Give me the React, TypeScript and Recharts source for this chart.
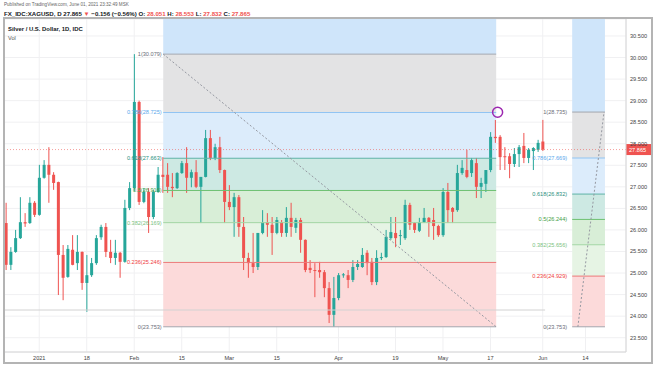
import React from 'react'
import {
  ComposedChart,
  Bar,
  XAxis,
  YAxis,
  CartesianGrid,
  ReferenceArea,
  ReferenceLine,
  ReferenceDot,
} from 'recharts'

// Daily XAGUSD candles (bar 0 = late Dec 2020, bar 113 = Jun 1)
const opens = [
  26.16, 25.19, 25.49, 25.81, 26.18, 26.16, 26.63, 26.35, 27.21, 27.51,
  27.28, 27.11, 25.42, 24.91, 25.54, 25.23, 25.49, 24.77, 24.95, 25.23,
  25.83, 26.07, 25.49, 25.35, 25.47, 25.26, 26.51, 26.97, 28.97, 26.65,
  26.88, 26.30, 26.88, 27.28, 27.28, 27.00, 26.97, 27.32, 27.55, 27.21,
  27.34, 27.00, 27.23, 28.13, 27.67, 27.92, 27.39, 26.65, 26.53, 26.76,
  26.07, 25.35, 25.23, 25.14, 25.93, 26.18, 26.12, 25.93, 26.18, 25.93,
  26.28, 26.05, 26.23, 25.77, 25.12, 25.07, 25.07, 25.02, 24.65, 24.03,
  24.42, 24.95, 24.95, 24.84, 25.14, 25.14, 25.47, 25.26, 24.79, 25.35,
  25.37, 25.81, 25.93, 25.86, 25.81, 26.58, 26.16, 25.98, 26.18, 26.28,
  26.23, 26.09, 25.88, 26.88, 26.51, 26.46, 27.32, 27.39, 27.32, 27.55,
  27.00, 27.07, 27.39, 28.16, 28.16, 27.71, 27.71, 27.53, 27.76, 27.95,
  27.67, 27.83, 27.86, 28.051,
]
const highs = [
  26.63, 25.60, 26.00, 26.76, 26.39, 26.76, 26.67, 27.51, 27.62, 27.92,
  27.34, 27.12, 25.65, 25.65, 25.88, 25.88, 25.50, 25.42, 25.35, 25.88,
  26.12, 26.16, 25.77, 25.77, 25.49, 26.70, 27.11, 30.079, 29.00, 26.97,
  26.97, 26.93, 27.46, 27.69, 27.55, 27.32, 27.34, 27.60, 27.92, 27.40,
  27.62, 27.23, 28.32, 28.32, 28.00, 28.16, 27.40, 27.04, 26.86, 26.81,
  26.30, 25.47, 25.93, 25.93, 26.46, 26.39, 26.30, 26.30, 26.23, 26.53,
  26.63, 26.28, 26.28, 25.78, 25.30, 25.23, 25.26, 25.07, 24.79, 24.91,
  25.00, 25.00, 25.07, 25.30, 25.30, 25.58, 25.53, 25.35, 25.53, 25.47,
  26.00, 26.30, 26.30, 26.00, 26.70, 26.63, 26.18, 26.28, 26.51, 26.30,
  26.51, 26.12, 26.97, 27.09, 26.53, 27.51, 27.62, 27.86, 27.67, 27.67,
  27.21, 27.39, 28.27, 28.55, 28.20, 27.92, 27.78, 27.90, 27.97, 28.25,
  27.90, 27.92, 28.09, 28.553,
]
const lows = [
  25.07, 25.07, 25.47, 25.79, 26.07, 26.14, 26.30, 26.33, 27.19, 26.63,
  26.93, 24.49, 24.37, 24.89, 25.18, 25.07, 24.61, 24.10, 24.91, 25.19,
  25.77, 25.37, 25.23, 25.19, 24.89, 25.24, 26.46, 26.90, 26.58, 26.62,
  25.93, 26.25, 26.86, 26.86, 26.86, 26.76, 26.95, 27.30, 26.86, 26.99,
  26.97, 26.16, 27.22, 27.62, 27.62, 27.32, 26.16, 26.46, 25.84, 25.84,
  25.07, 24.89, 25.00, 25.07, 25.90, 25.84, 25.42, 25.90, 25.84, 25.84,
  25.84, 25.93, 25.47, 25.02, 25.00, 24.44, 24.89, 24.44, 23.84, 23.753,
  24.37, 24.89, 24.65, 24.79, 25.07, 25.12, 24.95, 24.72, 24.72, 25.30,
  25.35, 25.77, 25.60, 25.65, 25.77, 26.00, 25.93, 25.95, 26.16, 25.84,
  25.77, 25.84, 25.84, 26.16, 26.16, 26.42, 27.28, 27.20, 27.23, 26.74,
  26.74, 26.88, 27.34, 28.02, 27.39, 27.39, 27.20, 27.46, 27.46, 27.55,
  27.55, 27.39, 27.81, 27.832,
]
const closes = [
  25.19, 25.49, 25.81, 26.18, 26.15, 26.63, 26.35, 27.21, 27.51, 27.28,
  27.09, 25.42, 24.89, 25.56, 25.19, 25.49, 24.77, 24.95, 25.23, 25.81,
  26.07, 25.49, 25.35, 25.47, 25.26, 26.51, 26.97, 28.97, 26.65, 26.88,
  26.30, 26.88, 27.28, 27.23, 27.00, 26.97, 27.32, 27.55, 27.21, 27.34,
  27.00, 27.23, 28.13, 27.67, 27.92, 27.39, 26.65, 26.53, 26.76, 26.07,
  25.35, 25.23, 25.14, 25.93, 26.18, 26.12, 25.93, 26.23, 25.93, 26.28,
  26.07, 26.23, 25.77, 25.07, 25.07, 25.05, 25.02, 24.65, 24.03, 24.42,
  24.95, 24.97, 24.84, 25.14, 25.21, 25.42, 25.23, 24.79, 25.35, 25.37,
  25.84, 25.95, 25.81, 25.88, 26.58, 26.12, 26.00, 26.18, 26.28, 26.18,
  26.09, 25.88, 26.88, 26.46, 26.42, 27.32, 27.44, 27.23, 27.62, 27.00,
  27.09, 27.39, 28.16, 28.13, 27.69, 27.69, 27.53, 27.76, 27.92, 27.67,
  27.86, 27.90, 28.02, 27.865,
]

const dateTicks = [7, 17, 27, 37, 47, 57, 70, 82, 92, 102, 113, 122]
const dateLabels = ['2021', '18', 'Feb', '15', 'Mar', '15', 'Apr', '19', 'May', '17', 'Jun', '14']
const priceTicks = [23.5, 24, 24.5, 25, 25.5, 26, 26.5, 27, 27.5, 28, 28.5, 29, 29.5, 30, 30.5]

const lastPrice = 27.865

// fib retracements drawn on the chart
const fibRatios = ['1', '0.786', '0.618', '0.5', '0.382', '0.236', '0']
const fibLevelsLeft = [30.079, 28.725, 27.663, 26.916, 26.169, 25.246, 23.753]
const fibLevelsRight = [28.735, 27.669, 26.832, 26.244, 25.656, 24.929, 23.753]
const fibSpanLeft = [33.1, 103.2]
const fibSpanRight = [119.2, 126.1]
const trendLeft = [{ x: 33.1, y: 30.079 }, { x: 103.2, y: 23.753 }]
const trendRight = [{ x: 120.4, y: 23.753 }, { x: 125.9, y: 28.735 }]

const X_DOMAIN: [number, number] = [-0.421, 130.53]
const Y_DOMAIN: [number, number] = [23.168, 30.894]

const UP = '#26a69a'
const DOWN = '#ef5350'
const FONT = '"Liberation Sans", Arial, sans-serif'

// zone between level i and i+1
const zoneFills = ['#e3e3e4', '#dcecfb', '#cde9e3', '#d8eed7', '#e6f4e4', '#fcdada']
const topFill = '#cfe5fa'
const lineColors = ['#a3a6ae', '#90c4f3', '#5fb3a6', '#6cc070', '#a2d6a3', '#ec7a7a', '#a3a6ae']
const labelColors = ['#6b6e78', '#5aa9ec', '#2b8f80', '#43a047', '#7cc27f', '#ef3e3e', '#6b6e78']

const candles = opens.map((o, i) => ({
  n: i,
  open: o,
  high: highs[i],
  low: lows[i],
  close: closes[i],
}))

function Candle(props: any) {
  const { x, y, width, height, payload } = props
  if (x == null || y == null || !payload) return null
  const { open, close, high, low } = payload
  const top = Math.min(y, y + height)
  const h = Math.abs(height)
  const k = high > low ? h / (high - low) : 0
  const yo = top + (high - open) * k
  const yc = top + (high - close) * k
  const color = close >= open ? UP : DOWN
  const cx = x + width / 2
  return (
    <g>
      <line x1={cx} x2={cx} y1={top} y2={top + h} stroke={color} strokeWidth={1} />
      <rect x={x} y={Math.min(yo, yc)} width={width} height={Math.max(1, Math.abs(yc - yo))} fill={color} />
    </g>
  )
}

function PriceTag(props: any) {
  const vb = props.viewBox
  if (!vb) return null
  const x = vb.x + vb.width
  const y = vb.y
  return (
    <g>
      <rect x={x} y={y - 5.5} width={25} height={11} fill={DOWN} />
      <text x={x + 3} y={y + 2} fontSize={5.6} fill="#fff" fontFamily={FONT}>
        {lastPrice.toFixed(3)}
      </text>
    </g>
  )
}

function fibElements(name: string, levels: number[], span: number[], labelOffset: number) {
  const out: any[] = []
  out.push(
    <ReferenceArea
      key={`${name}-top`}
      x1={span[0]}
      x2={span[1]}
      y1={levels[0]}
      y2={Y_DOMAIN[1]}
      fill={topFill}
      fillOpacity={1}
      stroke="none"
      ifOverflow="hidden"
    />
  )
  for (let i = 0; i < levels.length - 1; i++) {
    out.push(
      <ReferenceArea
        key={`${name}-zone-${i}`}
        x1={span[0]}
        x2={span[1]}
        y1={levels[i + 1]}
        y2={levels[i]}
        fill={zoneFills[i]}
        fillOpacity={1}
        stroke="none"
        ifOverflow="hidden"
      />
    )
  }
  levels.forEach((lvl, i) => {
    out.push(
      <ReferenceLine
        key={`${name}-lvl-${i}`}
        segment={[{ x: span[0], y: lvl }, { x: span[1], y: lvl }]}
        stroke={lineColors[i]}
        strokeWidth={1}
        label={{
          value: `${fibRatios[i]}(${lvl.toFixed(3)})`,
          position: 'left',
          offset: labelOffset,
          fontSize: 5.6,
          fill: labelColors[i],
          fontFamily: FONT,
        }}
      />
    )
  })
  return out
}

export default function App() {
  return (
    <div
      style={{
        position: 'absolute',
        left: 0,
        top: 0,
        width: 654,
        height: 366,
        background: '#fff',
        fontFamily: FONT,
        overflow: 'hidden',
      }}
    >
      <div style={{ position: 'absolute', left: 4, top: 2, fontSize: 4.6, color: '#666', whiteSpace: 'nowrap', lineHeight: '6px' }}>
        Published on TradingView.com, June 01, 2021 23:32:49 MSK
      </div>
      <div style={{ position: 'absolute', left: 4, top: 10, fontSize: 6.1, color: '#131722', fontWeight: 700, whiteSpace: 'nowrap', lineHeight: '7px' }}>
        FX_IDC:XAGUSD, D 27.865 <span style={{ color: DOWN }}>▼</span> −0.156 (−0.56%) O:{' '}
        <span style={{ color: DOWN }}>28.051</span> H: <span style={{ color: DOWN }}>28.553</span> L:{' '}
        <span style={{ color: DOWN }}>27.832</span> C: <span style={{ color: DOWN }}>27.865</span>
      </div>

      <ComposedChart
        width={654}
        height={366}
        data={candles}
        margin={{ top: 19, right: 2, bottom: 3, left: 4 }}
      >
        <CartesianGrid stroke="#f0f0f2" />
        {fibElements('left', fibLevelsLeft, fibSpanLeft, 1.5)}
        {fibElements('right', fibLevelsRight, fibSpanRight, 5)}
        <ReferenceLine segment={trendLeft} stroke="#9598a1" strokeDasharray="2 2" />
        <ReferenceLine segment={trendRight} stroke="#9598a1" strokeDasharray="2 2" />
        <ReferenceLine
          segment={[{ x: X_DOMAIN[0], y: 24.142 }, { x: 113.5, y: 24.142 }]}
          stroke="#d2d2d2"
        />
        <ReferenceLine
          y={lastPrice}
          stroke={DOWN}
          strokeOpacity={0.55}
          strokeDasharray="1 2"
          label={<PriceTag />}
        />
        <XAxis
          dataKey="n"
          type="number"
          domain={X_DOMAIN}
          allowDataOverflow
          ticks={dateTicks}
          interval={0}
          tickFormatter={(v: number) => dateLabels[dateTicks.indexOf(v)] ?? ''}
          tickLine={false}
          tickSize={0}
          tickMargin={4}
          axisLine={{ stroke: '#d6d6d6' }}
          tick={{ fontSize: 5.6, fill: '#444', fontFamily: FONT }}
          height={11}
        />
        <YAxis
          orientation="right"
          domain={Y_DOMAIN}
          allowDataOverflow
          ticks={priceTicks}
          interval={0}
          tickFormatter={(v: number) => v.toFixed(3)}
          tickLine={false}
          tickSize={0}
          tickMargin={4}
          axisLine={{ stroke: '#d6d6d6' }}
          tick={{ fontSize: 5.6, fill: '#444', fontFamily: FONT }}
          width={26}
        />
        <Bar
          dataKey={(d: any) => [d.low, d.high]}
          barSize={3}
          shape={<Candle />}
          isAnimationActive={false}
        />
        <ReferenceDot
          x={103.5}
          y={28.73}
          r={5}
          fill="none"
          stroke="#9c27b0"
          strokeWidth={1.5}
          ifOverflow="visible"
        />
      </ComposedChart>

      <div style={{ position: 'absolute', left: 8, top: 26, fontSize: 5.9, color: '#131722', fontWeight: 700, whiteSpace: 'nowrap', lineHeight: '7px' }}>
        Silver / U.S. Dollar, 1D, IDC
      </div>
      <div style={{ position: 'absolute', left: 8, top: 35, fontSize: 5.6, color: '#555', whiteSpace: 'nowrap', lineHeight: '7px' }}>
        Vol
      </div>
      <div
        style={{
          position: 'absolute',
          left: 3,
          top: 17,
          width: 650,
          height: 347,
          boxSizing: 'border-box',
          border: '2px solid #b4b4b4',
          pointerEvents: 'none',
        }}
      />
    </div>
  )
}
